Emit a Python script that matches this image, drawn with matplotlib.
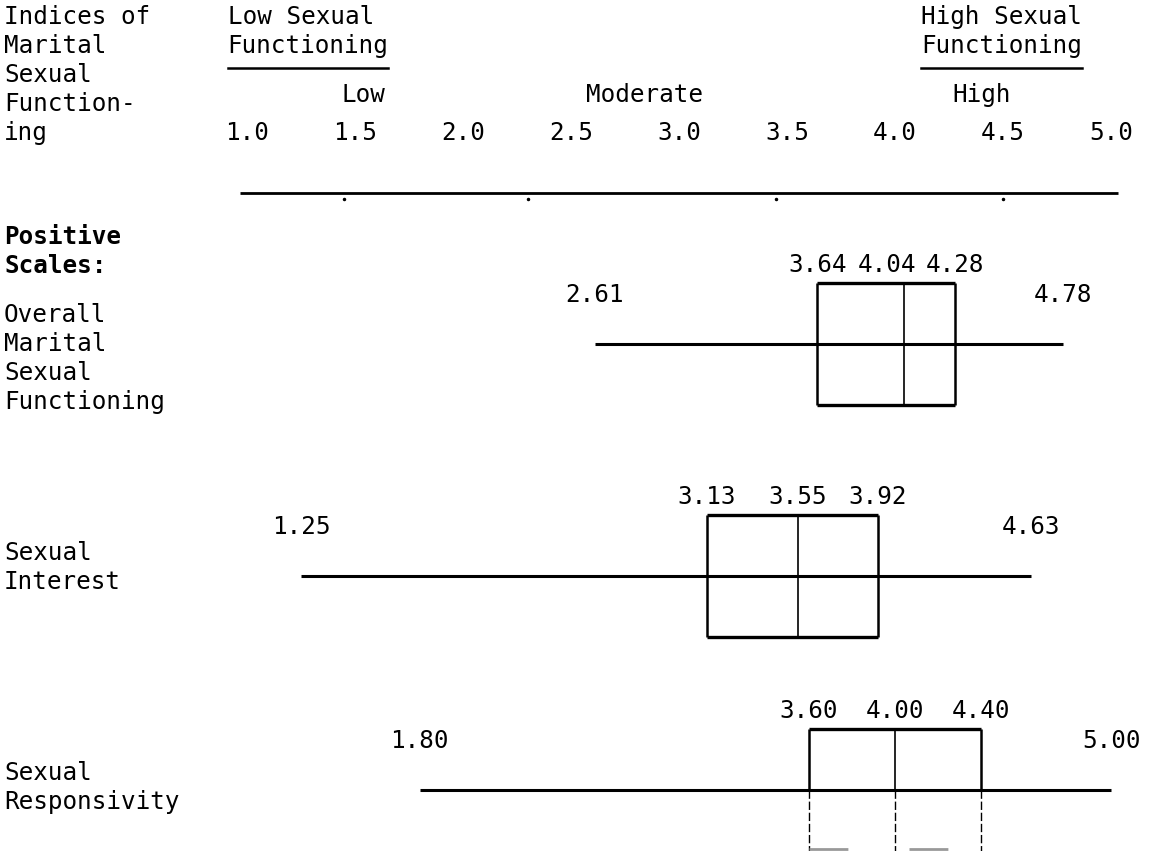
import matplotlib
matplotlib.use("Agg")
import matplotlib.pyplot as plt

# Box summaries for the three positive scales (min, Q1, median, Q3, max)
row_names = [["Overall", "Marital", "Sexual", "Functioning"],
             ["Sexual", "Interest"],
             ["Sexual", "Responsivity"]]
lows = [2.61, 1.25, 1.80]
q1s = [3.64, 3.13, 3.60]
medians = [4.04, 3.55, 4.00]
q3s = [4.28, 3.92, 4.40]
highs = [4.78, 4.63, 5.00]

scale_ticks = [1.0, 1.5, 2.0, 2.5, 3.0, 3.5, 4.0, 4.5, 5.0]
tick_labels = ["1.0", "1.5", "2.0", "2.5", "3.0", "3.5", "4.0", "4.5", "5.0"]
bands = ["Low", "Moderate", "High"]
band_centers = [1.54, 2.84, 4.40]
axis_dots = [1.45, 2.30, 3.45, 4.50]

# layout (pixels from the top of the page, x in scale units)
W, H = 1158, 851
PX_PER_UNIT, PX_OFFSET = 216.0, 31.0
LINE = 29
ROW_Y = [344, 576, 790]
ROW_LABEL_TOP = [315, 553, 773]
HALF = 61
AXIS_Y = 193
FS = 17.5
MONO = "DejaVu Sans Mono"
MIN_GAP = 68  # px between centres of neighbouring box labels


def px_to_val(px):
    return (px - PX_OFFSET) / PX_PER_UNIT


fig = plt.figure(figsize=(W / 100, H / 100), dpi=100)
ax = fig.add_axes([0, 0, 1, 1])
ax.set_xlim(px_to_val(0), px_to_val(W))
ax.set_ylim(H, 0)
ax.axis("off")
left = ax.get_yaxis_transform()


def lines(x, y0, rows, transform=None, **kw):
    out = []
    for i, r in enumerate(rows):
        t = ax.text(x, y0 + i * LINE, r, family=MONO, fontsize=FS,
                    va="center", ha="left",
                    transform=transform or ax.transData, **kw)
        out.append(t)
    return out


# header
lines(4 / W, 17, ["Indices of", "Marital", "Sexual", "Function-", "ing"],
      transform=left)
hdr_lo = lines(0.91, 17, ["Low Sexual", "Functioning"])
hdr_hi = lines(4.12, 17, ["High Sexual", "Functioning"])
for b, c in zip(bands, band_centers):
    ax.text(c, 95, b, family=MONO, fontsize=FS, ha="center", va="center")
for v, lab in zip(scale_ticks, tick_labels):
    ax.text(v, 133, lab, family=MONO, fontsize=FS, ha="center", va="center")

# underline the two "Functioning" headings
fig.canvas.draw()
inv = ax.transData.inverted()
for t in (hdr_lo[1], hdr_hi[1]):
    bb = t.get_window_extent()
    x0 = inv.transform((bb.x0, 0))[0]
    x1 = inv.transform((bb.x1, 0))[0]
    ax.plot([x0, x1], [68, 68], color="black", lw=1.8)

# scale line
ax.hlines(AXIS_Y, px_to_val(240), px_to_val(1118), color="black", lw=2.0)
ax.plot(axis_dots, [AXIS_Y + 6] * len(axis_dots), ".", color="black",
        ms=3)

lines(4 / W, 237, ["Positive", "Scales:"], transform=left,
      fontweight="bold")

for i in range(3):
    y = ROW_Y[i]
    lines(4 / W, ROW_LABEL_TOP[i], row_names[i], transform=left)
    ax.hlines(y, lows[i], highs[i], color="black", lw=2.2)
    top = y - HALF
    bottom = y + HALF
    ax.hlines(top, q1s[i], q3s[i], color="black", lw=2.4)
    if i < 2:
        ax.hlines(bottom, q1s[i], q3s[i], color="black", lw=2.4)
        ax.vlines([q1s[i], q3s[i]], top, bottom, color="black", lw=1.8)
        ax.vlines(medians[i], top, bottom, color="black", lw=1.2)
    else:
        # lower half of the last box runs off the page, faintly dashed
        ax.vlines([q1s[i], q3s[i]], top, y, color="black", lw=1.8)
        ax.vlines(medians[i], top, y, color="black", lw=1.2)
        ax.vlines([q1s[i], medians[i], q3s[i]], y, H + 2, color="black",
                  lw=1.0, linestyles=(0, (6, 2)))
        ax.hlines(H - 2, q1s[i], q3s[i], color="0.6", lw=2.0,
                  linestyles=(0, (14, 22)))
    for v in (lows[i], highs[i]):
        ax.text(v, y - 49, f"{v:.2f}", family=MONO, fontsize=FS,
                ha="center", va="center")
    # box labels: typed just above the box, nudged left where they crowd
    vals = [q1s[i], medians[i], q3s[i]]
    xs = [v * PX_PER_UNIT + PX_OFFSET for v in vals]
    for k in (1, 0):
        if xs[k + 1] - xs[k] < MIN_GAP:
            xs[k] = xs[k + 1] - MIN_GAP
    for v, xp in zip(vals, xs):
        ax.text(px_to_val(xp), y - 79, f"{v:.2f}", family=MONO,
                fontsize=FS, ha="center", va="center")

fig.savefig("out.png", dpi=100)
